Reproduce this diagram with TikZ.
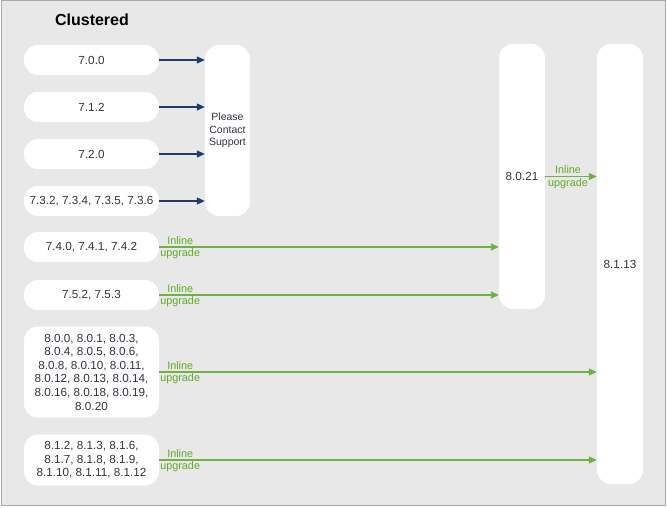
\documentclass[tikz,border=0pt]{standalone}
\usepackage{fontspec}
\setmainfont{Liberation Sans}
\usetikzlibrary{arrows.meta,positioning}
\definecolor{panel}{HTML}{E8E8E8}
\definecolor{frame}{HTML}{A8A8A8}
\definecolor{ink}{HTML}{33333F}
\definecolor{navy}{HTML}{1F3A6B}
\definecolor{leaf}{HTML}{72B046}
\definecolor{leaftext}{HTML}{5FAA28}
\tikzset{
  >=Triangle,
  verbox/.style={
    fill=white,
    rounded corners=14pt,
    minimum width=135pt,
    minimum height=30pt,
    inner sep=0pt,
    align=center,
    text=ink,
    font=\fontsize{11.7}{13.6}\selectfont,
  },
  tallbox/.style={verbox, minimum width=46pt, minimum height=#1},
  hop/.style={draw=navy, line width=1.3pt, -{Triangle[length=8pt,width=7pt]}},
  inline/.style={draw=leaf, line width=1.3pt, -{Triangle[length=8pt,width=7pt]}},
  tag/.style={font=\fontsize{10.8}{12.5}\selectfont, text=leaftext, align=center, inner sep=0pt},
}
\begin{document}
\begin{tikzpicture}[x=1pt,y=-1pt]
  \useasboundingbox (0,0) rectangle (667,508);
  \draw[frame, fill=panel, line width=1pt] (1,1) rectangle (665,505);

  \node[font=\fontsize{16}{18}\selectfont\bfseries, text=black] (title) at (92,20) {Clustered};

  % source versions
  \node[verbox] (n700) at (91.5,60) {7.0.0};
  \node[verbox] (n712) at (91.5,107) {7.1.2};
  \node[verbox] (n720) at (91.5,154) {7.2.0};
  \node[verbox] (n73x) at (91.5,201) {7.3.2, 7.3.4, 7.3.5, 7.3.6};
  \node[verbox] (n74x) at (91.5,247) {7.4.0, 7.4.1, 7.4.2};
  \node[verbox] (n75x) at (91.5,295) {7.5.2, 7.5.3};
  \node[verbox, minimum height=91pt] (n80x) at (91.5,372)
    {8.0.0, 8.0.1, 8.0.3,\\8.0.4, 8.0.5, 8.0.6,\\8.0.8, 8.0.10, 8.0.11,\\8.0.12, 8.0.13, 8.0.14,\\8.0.16, 8.0.18, 8.0.19,\\8.0.20};
  \node[verbox, minimum height=51pt] (n81x) at (91.5,460)
    {8.1.2, 8.1.3, 8.1.6,\\8.1.7, 8.1.8, 8.1.9,\\8.1.10, 8.1.11, 8.1.12};

  % targets
  \node[tallbox=171pt, minimum width=45pt, font=\fontsize{10.5}{12.5}\selectfont] (pcs) at (227.5,130.5) {Please\\Contact\\Support};
  \node[tallbox=265pt] (v8021) at (522,176.5) {8.0.21};
  \node[tallbox=440pt] (v8113) at (620,264) {8.1.13};

  % contact support
  \foreach \src in {n700,n712,n720,n73x}
    \draw[hop] (\src.east) -- (\src.east -| pcs.west);

  % inline upgrades
  \foreach \src/\dst in {n74x/v8021, n75x/v8021, n80x/v8113, n81x/v8113}
    \draw[inline] (\src.east) -- (\src.east -| \dst.west)
      node[tag, at start, xshift=21pt, yshift=-0.5pt] {Inline\\upgrade};
  \draw[inline] (v8021.east) -- (v8021.east -| v8113.west)
    node[tag, midway, xshift=-3pt, yshift=-0.5pt] {Inline\\upgrade};
\end{tikzpicture}
\end{document}
